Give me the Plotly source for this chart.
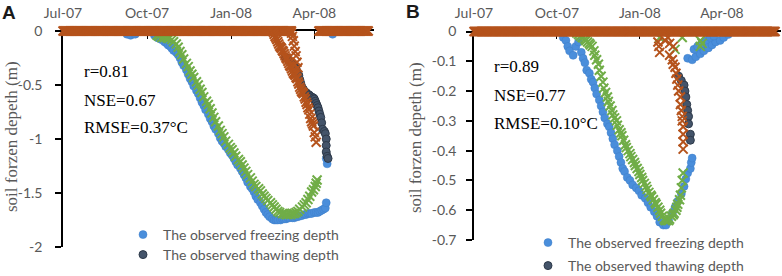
import pandas as pd
import plotly.graph_objects as go

# ---------------- data (day offsets from 2007-07-01, depths in m) ----------------
START = pd.Timestamp("2007-07-01")
X_TICK_DATES = ["2007-07-01", "2007-10-01", "2008-01-01", "2008-04-01"]
X_TICK_TEXT = ["Jul-07", "Oct-07", "Jan-08", "Apr-08"]
A_Y_TICKS = [0, -0.5, -1, -1.5, -2]
A_Y_TEXT = ["0", "-0.5", "-1", "-1.5", "-2"]
B_Y_TICKS = [0, -0.1, -0.2, -0.3, -0.4, -0.5, -0.6, -0.7]
B_Y_TEXT = ["0", "-0.1", "-0.2", "-0.3", "-0.4", "-0.5", "-0.6", "-0.7"]

SERIES_NAMES = ["The observed freezing depth", "The observed thawing depth",
                "The simulated freezing depth", "The simulated thawing depth"]

# ---- Panel A ----
a_obs_freeze_day = [70, 74, 79, 100, 102, 104, 106, 108, 111, 113, 115, 117, 119, 121, 124, 126, 128,
                    130, 132, 135, 137, 139, 141, 143, 146, 148, 150, 152, 154, 156, 159, 161, 163,
                    165, 167, 170, 172, 174, 176, 178, 181, 183, 185, 187, 189, 191, 194, 196, 198,
                    200, 202, 205, 207, 209, 211, 213, 216, 218, 220, 222, 224, 226, 229, 231, 233,
                    235, 238, 240, 242, 244, 246, 248, 251, 253, 255, 257, 259, 261, 264, 266, 268,
                    270, 272, 275, 277, 279, 281, 283, 285, 287, 288, 289, 288, 295]
a_obs_freeze_depth = [-0.03, -0.04, -0.03, -0.04, -0.05, -0.065, -0.07, -0.08, -0.10, -0.11, -0.13,
                      -0.14, -0.16, -0.18, -0.20, -0.22, -0.25, -0.29, -0.32, -0.36, -0.40, -0.44,
                      -0.47, -0.51, -0.55, -0.58, -0.62, -0.66, -0.69, -0.73, -0.77, -0.81, -0.84,
                      -0.88, -0.91, -0.95, -0.99, -1.02, -1.04, -1.07, -1.10, -1.13, -1.15, -1.18,
                      -1.21, -1.24, -1.27, -1.30, -1.33, -1.36, -1.40, -1.44, -1.46, -1.49, -1.53,
                      -1.56, -1.59, -1.62, -1.65, -1.68, -1.70, -1.72, -1.74, -1.75, -1.75, -1.75,
                      -1.75, -1.74, -1.74, -1.74, -1.73, -1.73, -1.73, -1.73, -1.72, -1.72, -1.71,
                      -1.71, -1.70, -1.70, -1.69, -1.69, -1.69, -1.68, -1.68, -1.68, -1.67, -1.66,
                      -1.65, -1.64, -1.59, -1.23, -1.18, -0.03]

a_obs_thaw_day = [243, 244, 246, 248, 249, 251, 253, 255, 256, 258, 259, 260, 261, 263, 264, 266,
                  267, 269, 270, 272, 274, 275, 276, 277, 278, 279, 280, 281, 282, 283, 284, 286,
                  287, 288, 288, 288, 289, 290]
a_obs_thaw_depth = [-0.24, -0.25, -0.26, -0.28, -0.29, -0.30, -0.32, -0.35, -0.38, -0.41, -0.45,
                    -0.48, -0.51, -0.54, -0.56, -0.57, -0.58, -0.59, -0.60, -0.61, -0.62, -0.63,
                    -0.65, -0.67, -0.69, -0.71, -0.74, -0.77, -0.80, -0.85, -0.91, -0.93, -0.95,
                    -1.00, -1.06, -1.12, -1.16, -1.18]

a_sim_freeze_day = [103, 105, 108, 111, 114, 116, 119, 121, 124, 126, 128, 130, 132, 135, 137, 139,
                    141, 143, 146, 148, 150, 152, 154, 157, 159, 161, 163, 165, 167, 170, 172, 174,
                    176, 178, 181, 183, 185, 187, 189, 192, 194, 196, 198, 200, 202, 205, 207, 209,
                    211, 214, 216, 218, 220, 222, 224, 227, 229, 231, 233, 235, 237, 240, 242, 244,
                    246, 249, 251, 253, 255, 257, 259, 262, 264, 266, 268, 270, 272, 274, 276, 277,
                    278]
a_sim_freeze_depth = [-0.04, -0.05, -0.06, -0.06, -0.065, -0.07, -0.08, -0.10, -0.12, -0.15, -0.19,
                      -0.22, -0.26, -0.30, -0.33, -0.37, -0.40, -0.43, -0.47, -0.50, -0.54, -0.57,
                      -0.61, -0.65, -0.68, -0.72, -0.76, -0.80, -0.84, -0.88, -0.92, -0.95, -0.98,
                      -1.02, -1.05, -1.08, -1.10, -1.13, -1.16, -1.19, -1.21, -1.24, -1.27, -1.30,
                      -1.33, -1.36, -1.39, -1.42, -1.44, -1.46, -1.48, -1.51, -1.53, -1.55, -1.57,
                      -1.59, -1.61, -1.63, -1.65, -1.67, -1.68, -1.69, -1.69, -1.70, -1.70, -1.70,
                      -1.69, -1.69, -1.68, -1.67, -1.65, -1.63, -1.61, -1.59, -1.56, -1.53, -1.49,
                      -1.47, -1.44, -1.41, -1.38]

a_sim_thaw_day = [230, 231, 232, 233, 234, 235, 236, 237, 238, 239, 240, 241, 242, 243, 244, 245,
                  246, 247, 248, 249, 250, 251, 252, 253, 254, 255, 256, 257, 258, 259, 260, 261,
                  262, 263, 264, 265, 266, 267, 268, 269, 270, 271, 272, 273, 274, 275, 276, 277,
                  250, 251, 252, 253, 254, 255, 256, 257]
a_sim_thaw_depth = [-0.01, -0.03, -0.05, -0.065, -0.08, -0.10, -0.12, -0.14, -0.15, -0.16, -0.18,
                    -0.19, -0.21, -0.23, -0.25, -0.26, -0.28, -0.30, -0.32, -0.33, -0.35, -0.37,
                    -0.39, -0.40, -0.41, -0.43, -0.44, -0.47, -0.49, -0.52, -0.54, -0.56, -0.57,
                    -0.58, -0.61, -0.63, -0.66, -0.68, -0.71, -0.73, -0.77, -0.81, -0.84, -0.86,
                    -0.88, -0.94, -0.98, -1.03,
                    -0.02, -0.05, -0.09, -0.14, -0.19, -0.23, -0.29, -0.34]
a_sim_thaw_zero_periods = [(0, 250), (280, 334)]   # days with simulated thaw depth = 0

# ---- Panel B ----
b_obs_freeze_day = [99, 102, 104, 106, 110, 113, 116, 119, 121, 123, 125, 128, 130, 132, 134, 136,
                    139, 141, 143, 145, 148, 150, 152, 154, 156, 159, 161, 163, 165, 167, 170, 173,
                    176, 180, 183, 186, 190, 193, 196, 200, 203, 206, 210, 213, 216, 220, 223, 226,
                    230, 233, 235, 237, 240, 241, 242,
                    237, 242, 246, 251, 255, 260, 264, 268, 273, 277, 282, 244, 248, 253, 257, 262,
                    266]
b_obs_freeze_depth = [-0.02, -0.03, -0.05, -0.065, -0.08, -0.05, -0.035, -0.07, -0.09, -0.105,
                      -0.13, -0.14, -0.16, -0.17, -0.19, -0.21, -0.23, -0.25, -0.27, -0.29, -0.31,
                      -0.32, -0.34, -0.36, -0.38, -0.40, -0.42, -0.44, -0.46, -0.47, -0.49, -0.50,
                      -0.515, -0.525, -0.535, -0.55, -0.56, -0.575, -0.59, -0.605, -0.62, -0.64,
                      -0.65, -0.65, -0.635, -0.61, -0.59, -0.57, -0.545, -0.52, -0.495, -0.475,
                      -0.46, -0.44, -0.425,
                      -0.09, -0.095, -0.085, -0.075, -0.065, -0.055, -0.045, -0.035, -0.03, -0.02,
                      -0.01, -0.06, -0.05, -0.04, -0.03, -0.02, -0.015]

b_obs_thaw_day = [227, 230, 233, 234, 235, 236, 237, 238, 238, 240, 240]
b_obs_thaw_depth = [-0.15, -0.165, -0.18, -0.20, -0.22, -0.245, -0.265, -0.285, -0.31, -0.345,
                    -0.365]

b_sim_freeze_day = [114, 116, 118, 120, 121, 123, 124, 126, 128, 129, 131, 133, 134, 136, 138, 139,
                    141, 143, 144, 146, 148, 149, 151, 153, 154, 156, 158, 159, 161, 163, 164, 166,
                    168, 169, 171, 173, 174, 176, 178, 179, 181, 183, 184, 186, 187, 189, 191, 192,
                    194, 196, 197, 199, 201, 202, 204, 206, 207, 209, 211, 212, 214, 216, 217, 219,
                    221, 222, 224, 225, 226, 228, 229, 230, 231, 232,
                    206, 223, 231, 251, 251, 253]
b_sim_freeze_depth = [-0.005, -0.01, -0.015, -0.02, -0.02, -0.025, -0.03, -0.035, -0.04, -0.045,
                      -0.05, -0.065, -0.08, -0.095, -0.11, -0.13, -0.15, -0.17, -0.19, -0.205,
                      -0.22, -0.235, -0.25, -0.265, -0.28, -0.29, -0.30, -0.315, -0.33, -0.34,
                      -0.35, -0.365, -0.38, -0.39, -0.40, -0.41, -0.42, -0.43, -0.44, -0.45, -0.46,
                      -0.47, -0.48, -0.49, -0.50, -0.51, -0.52, -0.53, -0.54, -0.55, -0.555,
                      -0.565, -0.575, -0.58, -0.59, -0.60, -0.61, -0.62, -0.63, -0.635, -0.635,
                      -0.635, -0.63, -0.62, -0.615, -0.61, -0.60, -0.59, -0.58, -0.565, -0.55,
                      -0.525, -0.50, -0.475,
                      -0.02, -0.06, -0.02, -0.03, -0.05, -0.04]

b_sim_thaw_day = [204, 205, 206, 212, 215, 217, 221, 217, 220, 221, 223, 224, 225, 226, 227, 229,
                  229, 230, 231, 231, 232, 232, 232, 232]
b_sim_thaw_depth = [-0.035, -0.05, -0.07, -0.03, -0.02, -0.04, -0.05, -0.08, -0.095, -0.11, -0.12,
                    -0.14, -0.16, -0.18, -0.20, -0.22, -0.245, -0.265, -0.285, -0.30, -0.32,
                    -0.345, -0.37, -0.395]
b_sim_thaw_zero_periods = [(0, 334)]

STATS_A = ["r=0.81", "NSE=0.67", "RMSE=0.37°C"]
STATS_B = ["r=0.89", "NSE=0.77", "RMSE=0.10°C"]
Y_TITLE = "soil forzen depeth (m)"

# ---------------- styling ----------------
W, H = 782, 276
C_BLUE = "#4A8EDB"
C_DARK = "#44546A"
C_GREEN = "#70AD47"
C_BROWN = "#B5531C"
GRAY = "#595959"
SANS = "Lato"
SERIF = "Liberation Serif"


def dates(days):
    return [START + pd.Timedelta(days=int(d)) for d in days]


def with_zero_periods(days, depths, periods):
    zd = [d for s, e in periods for d in range(s, e + 1)]
    return list(zd) + list(days), [0.0] * len(zd) + list(depths)


def px_x(p):
    return p / W


def px_y(p):
    return 1 - p / H


fig = go.Figure()


def add_panel(xa, ya, of_d, of_v, ot_d, ot_v, sf_d, sf_v, st_d, st_v, leg1, leg2, blue_size):
    fig.add_trace(go.Scatter(x=dates(of_d), y=of_v, mode="markers", name=SERIES_NAMES[0],
                             xaxis=xa, yaxis=ya, cliponaxis=False, legend=leg1,
                             marker=dict(symbol="circle", size=blue_size, color=C_BLUE,
                                         line=dict(width=0.5, color="#3F7FC8"))))
    fig.add_trace(go.Scatter(x=dates(ot_d), y=ot_v, mode="markers", name=SERIES_NAMES[1],
                             xaxis=xa, yaxis=ya, cliponaxis=False, legend=leg2,
                             marker=dict(symbol="circle", size=8, color=C_DARK,
                                         line=dict(width=1, color="#2E3A4A"))))
    fig.add_trace(go.Scatter(x=dates(sf_d), y=sf_v, mode="markers", name=SERIES_NAMES[2],
                             xaxis=xa, yaxis=ya, cliponaxis=False, showlegend=False,
                             marker=dict(symbol="x-thin", size=9, color=C_GREEN,
                                         line=dict(width=2, color=C_GREEN))))
    fig.add_trace(go.Scatter(x=dates(st_d), y=st_v, mode="markers", name=SERIES_NAMES[3],
                             xaxis=xa, yaxis=ya, cliponaxis=False, showlegend=False,
                             marker=dict(symbol="x-thin", size=9, color=C_BROWN,
                                         line=dict(width=2, color=C_BROWN))))


a_st_d, a_st_v = with_zero_periods(a_sim_thaw_day, a_sim_thaw_depth, a_sim_thaw_zero_periods)
b_st_d, b_st_v = with_zero_periods(b_sim_thaw_day, b_sim_thaw_depth, b_sim_thaw_zero_periods)

add_panel("x", "y", a_obs_freeze_day, a_obs_freeze_depth, a_obs_thaw_day, a_obs_thaw_depth,
          a_sim_freeze_day, a_sim_freeze_depth, a_st_d, a_st_v, "legend", "legend2", 8)
add_panel("x2", "y2", b_obs_freeze_day, b_obs_freeze_depth, b_obs_thaw_day, b_obs_thaw_depth,
          b_sim_freeze_day, b_sim_freeze_depth, b_st_d, b_st_v, "legend3", "legend4", 8)

x_end = (START + pd.Timedelta(days=340)).strftime("%Y-%m-%d")
xcommon = dict(type="date", side="top", range=["2007-07-01", x_end], tickvals=X_TICK_DATES,
               ticktext=X_TICK_TEXT, showgrid=False, zeroline=False, showline=True,
               linecolor="black", linewidth=1.5, ticks="inside", ticklen=8, tickwidth=1.2,
               tickcolor="black", tickfont=dict(family=SANS, size=14, color=GRAY),
               layer="below traces", ticklabelstandoff=6, automargin=False)
ycommon = dict(showgrid=False, zeroline=False, showline=True, linecolor="black", linewidth=1.5,
               ticks="outside", ticklen=6, tickwidth=1.5, tickcolor="black",
               tickfont=dict(family=SANS, size=14, color=GRAY), layer="below traces",
               automargin=False)

legcommon = dict(font=dict(family=SANS, size=14, color=GRAY), bgcolor="rgba(0,0,0,0)",
                 xanchor="left", yanchor="middle", borderwidth=0)

fig.update_layout(
    width=W, height=H, autosize=False, hovermode=False,
    margin=dict(l=0, r=0, t=0, b=0, pad=0, autoexpand=False),
    paper_bgcolor="white", plot_bgcolor="white",
    xaxis=dict(domain=[px_x(63), px_x(63 + 340 * 0.914)], anchor="y", **xcommon),
    yaxis=dict(domain=[px_y(247), px_y(31)], anchor="x", range=[-2, 0], tickvals=A_Y_TICKS,
               ticktext=A_Y_TEXT, ticklabelstandoff=10, **ycommon),
    xaxis2=dict(domain=[px_x(474), px_x(474 + 340 * 0.9015)], anchor="y2", **xcommon),
    yaxis2=dict(domain=[px_y(240), px_y(31.5)], anchor="x2", range=[-0.7, 0], tickvals=B_Y_TICKS,
                ticktext=B_Y_TEXT, ticklabelstandoff=7, **ycommon),
    legend=dict(x=px_x(123), y=px_y(235), **legcommon),
    legend2=dict(x=px_x(123), y=px_y(255), **legcommon),
    legend3=dict(x=px_x(528), y=px_y(243), **legcommon),
    legend4=dict(x=px_x(528), y=px_y(266), **legcommon),
)

ann = []
ann.append(dict(text="<b>A</b>", x=px_x(9), y=px_y(13)))
ann.append(dict(text="<b>B</b>", x=px_x(413), y=px_y(12)))
for a in ann:
    a.update(xref="paper", yref="paper", showarrow=False, xanchor="center", yanchor="middle",
             font=dict(family="Liberation Sans", size=19, color="#1a1a1a"))

for txt, yy in zip(STATS_A, [71, 100, 127]):
    ann.append(dict(text=txt, x=px_x(82), y=px_y(yy), xref="paper", yref="paper",
                    showarrow=False, xanchor="left", yanchor="middle",
                    font=dict(family=SERIF, size=17, color="black")))
for txt, yy in zip(STATS_B, [67, 95, 123]):
    ann.append(dict(text=txt, x=px_x(492), y=px_y(yy), xref="paper", yref="paper",
                    showarrow=False, xanchor="left", yanchor="middle",
                    font=dict(family=SERIF, size=17, color="black")))
for xx, yy in [(11, 137), (415, 138)]:
    ann.append(dict(text=Y_TITLE, x=px_x(xx), y=px_y(yy), xref="paper", yref="paper",
                    showarrow=False, xanchor="center", yanchor="middle", textangle=-90,
                    font=dict(family=SERIF, size=17, color=GRAY)))

fig.update_layout(annotations=ann)
fig.write_html("out.html", config={"displayModeBar": False},
               post_script="document.body.style.margin='0';document.body.style.padding='0';")
